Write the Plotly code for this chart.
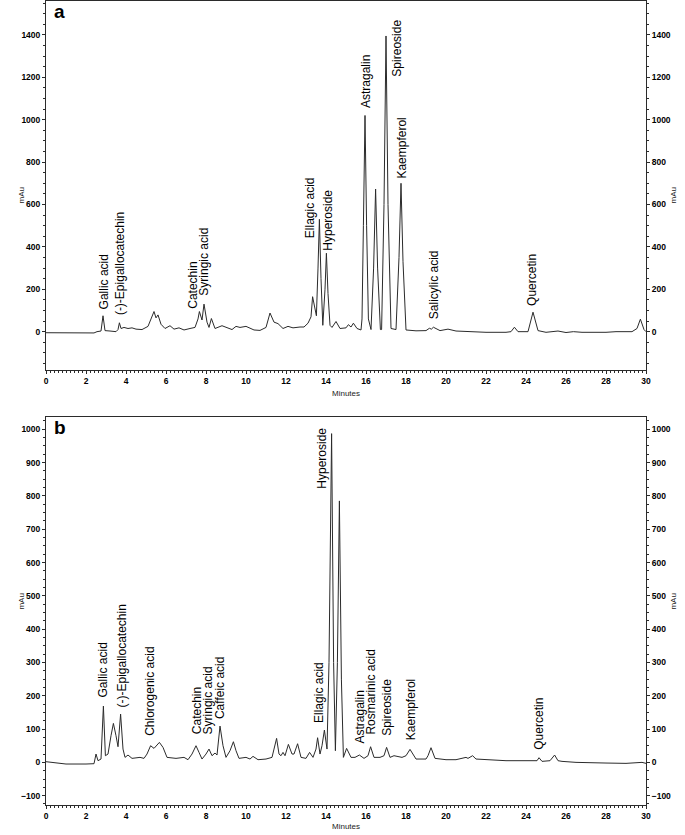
import plotly.graph_objects as go

# ---- panel a: chromatogram (time in min, signal in mAu) ----
time_a = [0.0, 1.0, 2.0, 2.4, 2.55, 2.75, 2.85, 2.95, 3.2, 3.5, 3.6, 3.67, 3.75, 3.9, 4.1,
          4.3, 4.5, 4.8, 5.1, 5.3, 5.4, 5.5, 5.6, 5.75, 5.95, 6.2, 6.4, 6.65, 6.9, 7.2,
          7.45, 7.6, 7.67, 7.8, 7.9, 8.05, 8.15, 8.27, 8.45, 8.8, 9.1, 9.3, 9.5, 9.7, 10.0,
          10.2, 10.4, 10.7, 11.0, 11.2, 11.4, 11.6, 11.85, 12.1, 12.35, 12.7, 12.9, 13.1, 13.25, 13.33,
          13.45, 13.52, 13.6, 13.67, 13.75, 13.84, 13.95, 14.02, 14.1, 14.2, 14.3, 14.5, 14.7, 15.0, 15.12,
          15.25, 15.37, 15.55, 15.75, 15.8, 15.87, 15.95, 16.03, 16.12, 16.25, 16.38, 16.48, 16.58, 16.72, 16.78,
          16.9, 17.0, 17.1, 17.25, 17.5, 17.65, 17.75, 17.85, 18.0, 18.5, 19.0, 19.17, 19.27, 19.37, 19.7,
          20.1, 20.5, 21.0, 22.0, 23.0, 23.25, 23.42, 23.6, 24.1, 24.35, 24.6, 25.0, 25.6, 26.0, 26.37,
          26.8, 28.0, 28.5, 29.3, 29.55, 29.72, 29.9, 30.0]
mau_a = [-5, -6, -7, -6, 0, 3, 75, 5, 3, 0, 10, 42, 15, 20, 15,
         18, 12, 10, 25, 70, 95, 65, 79, 35, 15, 28, 12, 18, 8, 15,
         20, 60, 95, 55, 130, 45, 20, 62, 15, 28, 15, 10, 25, 20, 25,
         15, 8, 6, 20, 88, 45, 38, 15, 25, 18, 22, 22, 40, 70, 165,
         100, 75, 300, 530, 250, 30, 200, 370, 180, 30, 20, 48, 15, 18, 33,
         22, 40, 15, 8, 60, 500, 1020, 500, 60, 10, 300, 673, 300, 10, 10,
         600, 1395, 600, 15, 10, 350, 700, 330, 8, 4, 5, 16, 12, 21, 5,
         12, 3, 0, -3, -3, 0, 21, 0, 0, 92, 5, -3, 3, -4, 0,
         -3, -3, 0, 0, 15, 59, 10, 0]

labels_a = ["Gallic acid", "(-)-Epigallocatechin", "Catechin", "Syringic acid", "Ellagic acid",
            "Hyperoside", "Astragalin", "Spireoside", "Kaempferol", "Salicylic acid", "Quercetin"]
label_time_a = [2.9, 3.7, 7.37, 7.9, 13.2, 14.08, 16.0, 17.57, 17.82, 19.4, 24.33]
label_mau_a = [98, 71, 103, 165, 434, 378, 1048, 1198, 717, 52, 115]

# ---- panel b ----
time_b = [0.0, 0.5, 1.0, 2.0, 2.4, 2.5, 2.6, 2.75, 2.87, 2.97, 3.1, 3.25, 3.37, 3.5, 3.6,
          3.73, 3.85, 3.95, 4.1, 4.3, 4.7, 4.9, 5.05, 5.23, 5.4, 5.67, 5.85, 6.05, 6.5, 6.9,
          7.1, 7.3, 7.5, 7.65, 7.8, 8.0, 8.15, 8.3, 8.45, 8.55, 8.7, 8.85, 9.0, 9.2, 9.37,
          9.5, 9.65, 10.0, 10.2, 10.35, 10.6, 11.0, 11.3, 11.4, 11.53, 11.65, 11.75, 11.85, 11.95, 12.12,
          12.3, 12.4, 12.58, 12.75, 13.0, 13.18, 13.35, 13.5, 13.58, 13.7, 13.8, 13.92, 14.05, 14.15, 14.28,
          14.38, 14.47, 14.57, 14.67, 14.77, 14.87, 15.03, 15.25, 15.45, 15.67, 15.9, 16.1, 16.23, 16.4, 16.7,
          16.9, 17.03, 17.2, 17.4, 17.6, 17.8, 18.0, 18.2, 18.5, 19.0, 19.1, 19.25, 19.45, 20.0, 20.5,
          21.0, 21.1, 21.33, 21.5, 22.0, 22.5, 23.0, 24.0, 24.55, 24.65, 24.8, 25.2, 25.43, 25.6, 25.8,
          26.5, 27.0, 28.0, 29.0, 29.8, 30.0]
mau_b = [2, -2, -5, -5, -4, 25, 5, 10, 169, 20, 25, 80, 117, 80, 47,
         145, 40, 15, 22, 12, 15, 12, 25, 50, 42, 60, 45, 15, 12, 15,
         8, 25, 50, 30, 10, 25, 40, 20, 28, 22, 109, 50, 15, 35, 62,
         35, 12, 15, 10, 18, 8, 10, 15, 40, 72, 25, 20, 30, 20, 54,
         25, 25, 56, 15, 12, 30, 15, 40, 74, 25, 50, 97, 40, 300, 987,
         300, 35, 300, 785, 250, 15, 42, 15, 15, 22, 12, 20, 47, 15, 15,
         20, 45, 15, 20, 18, 15, 20, 39, 10, 10, 20, 44, 12, 8, 8,
         15, 12, 20, 10, 8, 5, 5, 5, 5, 14, 3, 5, 22, 5, 3,
         0, 0, -2, -3, 0, -3]

labels_b = ["Gallic acid", "(-)-Epigallocatechin", "Chlorogenic acid", "Catechin", "Syringic acid",
            "Caffeic acid", "Ellagic acid", "Hyperoside", "Astragalin", "Rosmarinic acid",
            "Spireoside", "Kaempferol", "Quercetin"]
label_time_b = [2.83, 3.78, 5.23, 7.53, 8.12, 8.7, 13.62, 13.78, 15.7, 16.25, 17.08, 18.23, 24.65]
label_mau_b = [192, 162, 77, 82, 82, 127, 115, 819, 52, 79, 77, 64, 35]

FONT = "Liberation Sans, Arial, sans-serif"
LINE = "#2b2b2b"
tick_font = dict(family=FONT, size=8.5, color="black", weight="bold")

fig = go.Figure()
for xs, ys, xa, ya, yr in [(time_a, mau_a, "x", "y", "y3"), (time_b, mau_b, "x2", "y2", "y4")]:
    fig.add_trace(go.Scatter(x=xs, y=ys, xaxis=xa, yaxis=ya, mode="lines",
                             line=dict(color=LINE, width=1), showlegend=False, hoverinfo="skip"))
    # same trace, invisible, so the right-hand mAu axis gets drawn
    fig.add_trace(go.Scatter(x=xs, y=ys, xaxis=xa, yaxis=yr, mode="lines",
                             line=dict(color="rgba(0,0,0,0)", width=0), showlegend=False, hoverinfo="skip"))

annotations = []
for names, ts, vs, xr, yr in [(labels_a, label_time_a, label_mau_a, "x", "y"),
                              (labels_b, label_time_b, label_mau_b, "x2", "y2")]:
    for name, t, v in zip(names, ts, vs):
        annotations.append(dict(x=t, y=v, xref=xr, yref=yr, text=name, textangle=-90,
                                showarrow=False, xanchor="center", yanchor="bottom", borderpad=0,
                                font=dict(family=FONT, size=12, color="black")))

# panel letters, axis titles
annotations += [
    dict(x=0.01, y=1.0, xref="paper", yref="paper", text="<b>a</b>", showarrow=False,
         xanchor="left", yanchor="top", yshift=2, font=dict(family=FONT, size=19, color="black")),
    dict(x=0.01, y=0.4826, xref="paper", yref="paper", text="<b>b</b>", showarrow=False,
         xanchor="left", yanchor="top", yshift=2, font=dict(family=FONT, size=19, color="black")),
    dict(x=0.5, y=0.541, xref="paper", yref="paper", text="Minutes", showarrow=False,
         yshift=-23, font=dict(family=FONT, size=8, color="#222")),
    dict(x=0.5, y=0.0, xref="paper", yref="paper", text="Minutes", showarrow=False,
         yshift=-28, font=dict(family=FONT, size=8, color="#222")),
]
for yy in (0.77, 0.24):
    annotations.append(dict(x=0, y=yy, xref="paper", yref="paper", text="mAu", textangle=-90,
                            showarrow=False, xshift=-31, font=dict(family=FONT, size=8, color="#222")))
    annotations.append(dict(x=1, y=yy, xref="paper", yref="paper", text="mAu", textangle=-90,
                            showarrow=False, xshift=34, font=dict(family=FONT, size=8, color="#222")))

x_common = dict(range=[0, 30], dtick=2, ticks="outside", ticklen=3, tickcolor=LINE,
                showline=True, linecolor=LINE, linewidth=1, mirror=True, showgrid=False,
                zeroline=False, tickfont=tick_font,
                minor=dict(dtick=0.2, ticks="outside", ticklen=2, tickcolor=LINE))
y_common = dict(ticks="outside", ticklen=3, tickcolor=LINE, showline=True, linecolor=LINE,
                linewidth=1, showgrid=False, zeroline=False, tickfont=tick_font)

fig.update_layout(
    width=685, height=835,
    margin=dict(l=46, r=39, t=1, b=30),
    plot_bgcolor="white", paper_bgcolor="white",
    xaxis=dict(domain=[0, 1], anchor="y", **x_common),
    yaxis=dict(domain=[0.541, 1.0], anchor="x", range=[-181, 1560], dtick=200,
               minor=dict(dtick=50, ticks="outside", ticklen=2, tickcolor=LINE), **y_common),
    yaxis3=dict(overlaying="y", side="right", anchor="x", range=[-181, 1560], dtick=200,
                minor=dict(dtick=50, ticks="outside", ticklen=2, tickcolor=LINE), **y_common),
    xaxis2=dict(domain=[0, 1], anchor="y2", **x_common),
    yaxis2=dict(domain=[0, 0.4826], anchor="x2", range=[-128, 1037], dtick=100,
                minor=dict(dtick=25, ticks="outside", ticklen=2, tickcolor=LINE), **y_common),
    yaxis4=dict(overlaying="y2", side="right", anchor="x2", range=[-128, 1037], dtick=100,
                minor=dict(dtick=25, ticks="outside", ticklen=2, tickcolor=LINE), **y_common),
    annotations=annotations,
)

# the page's default 8px body margin would push the figure off its 685x835 frame
fig.write_html("out.html", config={"displayModeBar": False},
               post_script="document.body.style.margin='0';")
